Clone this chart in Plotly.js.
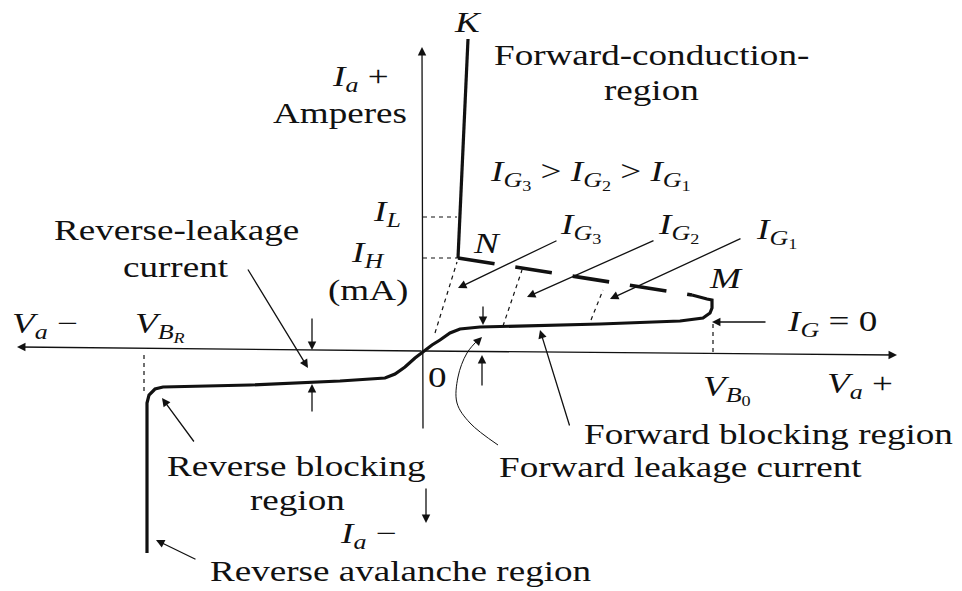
<!DOCTYPE html>
<html>
<head>
<meta charset="utf-8">
<script src="https://cdn.plot.ly/plotly-3.0.1.min.js"></script>
<style>
  html, body { margin: 0; padding: 0; background: #ffffff; }
  #chart { width: 962px; height: 591px; }
  .annotation-text { transform-box: fill-box; transform-origin: center; transform: scaleX(1.28); }
</style>
</head>
<body>
<div id="chart"></div>
<script>
// ---- Data (diagram units: V = anode voltage, I = anode current; origin at 0) ----
// Main characteristic (I_G = 0): reverse avalanche -> reverse blocking -> origin -> forward blocking -> breakover M
const curveV = [-276, -276, -274, -268, -260, -173, -83, -38, -28, -18, -8, 0, 9, 17, 27, 37, 57, 177, 257, 280, 287, 289, 289, 284, 269];
const curveI = [-201, -51, -43, -37, -35, -33, -29, -26, -22, -15, -6, 0, 7, 12, 19, 23, 25, 28, 31, 34, 39, 44, 52, 53, 57];
// Forward conduction region N -> K
const conductV = [35, 45];
const conductI = [94, 313];
// Negative-resistance (dashed) path N -> M
const negResV = [35, 269];
const negResI = [94, 57];
// Gate-current switching curves I_G3, I_G2, I_G1
const gate3V = [12, 34], gate3I = [19, 90];
const gate2V = [80, 99], gate2I = [26, 82];
const gate1V = [168, 180], gate1I = [32, 62];
// Latching and holding current levels
const latchV = [0, 34], latchI = [135, 135];
const holdV = [0, 35], holdI = [94, 94];
// Breakover voltages
const vboV = [290, 290], vboI = [0, 29];
const vbrV = [-279, -279], vbrI = [-3, -43];
// Curved "Forward leakage current" pointer
const leakArcV = [75, 47, 34, 35, 44, 57];
const leakArcI = [-93, -71, -51, -25, -1, 14];

// Pointer arrows: [tailV, tailI, headV, headI]
const pointers = [
  [0, -78, -1, 305],      // I_a + axis
  [0, 1, 474, -3],        // V_a + axis
  [0, 1, -406, 5],        // V_a - axis
  [3, -135, 3, -171],     // I_a - arrow
  [344, 30, 289, 30],     // I_G = 0
  [135, 112, 35, 64],     // I_G3
  [232, 112, 104, 55],    // I_G2
  [319, 114, 187, 53],    // I_G1
  [-176, 84, -115, -16],  // reverse-leakage current
  [-111, 35, -111, 2],    // reverse leakage marker (down)
  [-111, -61, -111, -32], // reverse leakage marker (up)
  [-228, -91, -261, -46], // reverse blocking region
  [-226, -208, -267, -188], // reverse avalanche region
  [60, 47, 60, 27],       // forward leakage marker (down)
  [59, -35, 59, -3],      // forward leakage marker (up)
  [147, -75, 117, 22],    // forward blocking region
  [52, 8, 59, 15]         // forward leakage current arc head
];

// Text labels: [text, V, I]
const labels = [
  ["<i>K</i>", 45, 330],
  ["<i>I</i><sub><i>a</i></sub> +", -63, 274],
  ["Amperes", -83, 239],
  ["Forward-conduction-", 228, 297],
  ["region", 228, 262],
  ["<i>I</i><sub><i>G</i><sub>3</sub></sub> > <i>I</i><sub><i>G</i><sub>2</sub></sub> > <i>I</i><sub><i>G</i><sub>1</sub></sub>", 167, 177],
  ["<i>I</i><sub><i>L</i></sub>", -36, 139],
  ["<i>I</i><sub><i>H</i></sub>", -55, 98],
  ["(mA)", -55, 62],
  ["Reverse-leakage", -247, 122],
  ["current", -247, 85],
  ["<i>N</i>", 64, 109],
  ["<i>I</i><sub><i>G</i><sub>3</sub></sub>", 157, 124],
  ["<i>I</i><sub><i>G</i><sub>2</sub></sub>", 255, 124],
  ["<i>I</i><sub><i>G</i><sub>1</sub></sub>", 353, 119],
  ["<i>M</i>", 303, 74],
  ["<i>I</i><sub><i>G</i></sub> = 0", 409, 29],
  ["<i>V</i><sub><i>a</i></sub> \u2212", -378, 27],
  ["<i>V</i><sub><i>B</i><sub><i>R</i></sub></sub>", -263, 25],
  ["0", 14, -25],
  ["<i>V</i><sub><i>B</i><sub>0</sub></sub>", 304, -38],
  ["<i>V</i><sub><i>a</i></sub> +", 437, -33],
  ["Forward blocking region", 345, -82],
  ["Forward leakage current", 257, -115],
  ["Reverse blocking", -127, -114],
  ["region", -126, -148],
  ["<i>I</i><sub><i>a</i></sub> \u2212", -55, -183],
  ["Reverse avalanche region", -22, -219]
];

// ---- Figure ----
const ink = "#111111";
function line(x, y, width, dash, shape) {
  return { x: x, y: y, type: "scatter", mode: "lines", hoverinfo: "skip",
           line: { color: ink, width: width, dash: dash || "solid", shape: shape || "linear" } };
}
const traces = [
  line(curveV, curveI, 3.2),
  line(conductV, conductI, 3.2),
  line(negResV, negResI, 3.6, "37px,21px"),
  line(gate3V, gate3I, 1.2, "4px,4px"),
  line(gate2V, gate2I, 1.2, "4px,4px"),
  line(gate1V, gate1I, 1.2, "4px,4px"),
  line(latchV, latchI, 1.2, "4px,4px"),
  line(holdV, holdI, 1.2, "4px,4px"),
  line(vboV, vboI, 1.2, "4px,4px"),
  line(vbrV, vbrI, 1.2, "4px,4px"),
  line(leakArcV, leakArcI, 1.0, "solid", "spline")
];

const annotations = [];
pointers.forEach(function (p) {
  annotations.push({ x: p[2], y: p[3], ax: p[0], ay: p[1], xref: "x", yref: "y", axref: "x", ayref: "y",
    text: "", showarrow: true, arrowhead: 2, arrowsize: 1.3, arrowwidth: 1.3, arrowcolor: ink,
    standoff: 0, startstandoff: 0 });
});
labels.forEach(function (l) {
  annotations.push({ x: l[1], y: l[2], xref: "x", yref: "y", text: l[0], showarrow: false,
    xanchor: "center", yanchor: "middle",
    font: { family: "Liberation Serif, Times New Roman, serif", size: 29, color: ink } });
});

const layout = {
  width: 962, height: 591,
  margin: { l: 0, r: 0, t: 0, b: 0 },
  paper_bgcolor: "#ffffff", plot_bgcolor: "#ffffff",
  showlegend: false,
  xaxis: { range: [-423, 539], visible: false, fixedrange: true },
  yaxis: { range: [-239, 352], visible: false, fixedrange: true },
  annotations: annotations
};

Plotly.newPlot("chart", traces, layout, { staticPlot: true, displayModeBar: false });
</script>
</body>
</html>
